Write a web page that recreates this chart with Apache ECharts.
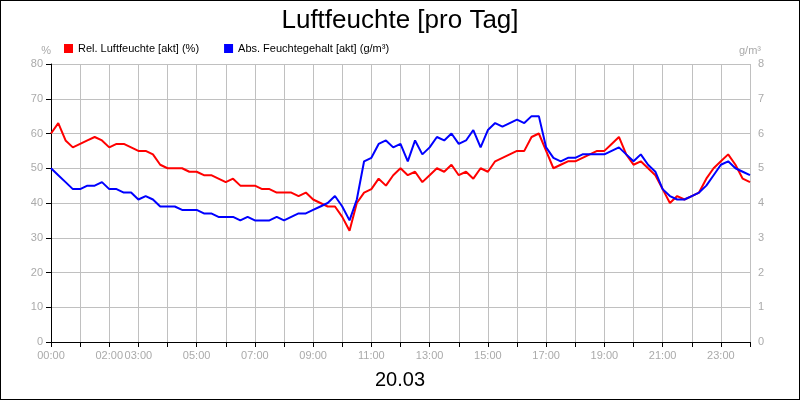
<!DOCTYPE html>
<html><head><meta charset="utf-8">
<script src="https://cdn.jsdelivr.net/npm/echarts@6/dist/echarts.min.js"></script>
<style>html,body{margin:0;padding:0;background:#fff}#c{width:798px;height:398px;border:1px solid #000}</style>
</head><body><div id="c"></div>
<script>
const times = [];
for (let i = 0; i <= 96; i++) { const h = Math.floor(i / 4), m = (i % 4) * 15; times.push(String(h).padStart(2,'0') + ':' + String(m).padStart(2,'0')); }
const shownLabels = ['00:00','02:00','03:00','05:00','07:00','09:00','11:00','13:00','15:00','17:00','19:00','21:00','23:00'];
const relHum = [60,63,58,56,57,58,59,58,56,57,57,56,55,55,54,51,50,50,50,49,49,48,48,47,46,47,45,45,45,44,44,43,43,43,42,43,41,40,39,39,36,32,40,43,44,47,45,48,50,48,49,46,48,50,49,51,48,49,47,50,49,52,53,54,55,55,59,60,55,50,51,52,52,53,54,55,55,57,59,54,51,52,50,48,44,40,42,41,42,43,47,50,52,54,51,47,46];
const absHum = [5.0,4.8,4.6,4.4,4.4,4.5,4.5,4.6,4.4,4.4,4.3,4.3,4.1,4.2,4.1,3.9,3.9,3.9,3.8,3.8,3.8,3.7,3.7,3.6,3.6,3.6,3.5,3.6,3.5,3.5,3.5,3.6,3.5,3.6,3.7,3.7,3.8,3.9,4.0,4.2,3.9,3.5,4.1,5.2,5.3,5.7,5.8,5.6,5.7,5.2,5.8,5.4,5.6,5.9,5.8,6.0,5.7,5.8,6.1,5.6,6.1,6.3,6.2,6.3,6.4,6.3,6.5,6.5,5.6,5.3,5.2,5.3,5.3,5.4,5.4,5.4,5.4,5.5,5.6,5.4,5.2,5.4,5.1,4.9,4.4,4.2,4.1,4.1,4.2,4.3,4.5,4.8,5.1,5.2,5.0,4.9,4.8];
const grey = '#aaaaaa';
const chart = echarts.init(document.getElementById('c'));
chart.setOption({
  animation: false,
  textStyle: { fontFamily: 'Liberation Sans, Arial, sans-serif' },
  title: [
    { text: 'Luftfeuchte [pro Tag]', left: 'center', top: 2, textStyle: { fontSize: 26, fontWeight: 'normal', color: '#000' } },
    { text: '20.03', left: 'center', top: 364, textStyle: { fontSize: 20, fontWeight: 'normal', color: '#000' } }
  ],
  legend: { left: 58, top: 37, itemWidth: 9, itemHeight: 9, itemGap: 25, icon: 'rect', textStyle: { fontSize: 11, color: '#000' },
    data: ['Rel. Luftfeuchte [akt] (%)', 'Abs. Feuchtegehalt [akt] (g/m³)'] },
  grid: { left: 50, right: 49, top: 63, bottom: 57 },
  xAxis: { type: 'category', data: times, boundaryGap: false,
    axisLine: { lineStyle: { color: '#000' } },
    axisTick: { interval: i => i % 4 === 0, lineStyle: { color: '#000' } },
    axisLabel: { interval: (i, v) => shownLabels.includes(v) && i < 96, color: grey, fontSize: 11 },
    splitLine: { show: true, interval: i => i % 4 === 0, lineStyle: { color: '#c0c0c0' } } },
  yAxis: [
    { type: 'value', min: 0, max: 80, interval: 10, name: '%', nameGap: 8, nameTextStyle: { color: grey, fontSize: 11, align: 'right' },
      axisLine: { show: true, lineStyle: { color: '#000' } }, axisTick: { show: true, lineStyle: { color: '#000' } },
      axisLabel: { color: grey, fontSize: 11 }, splitLine: { lineStyle: { color: '#c0c0c0' } } },
    { type: 'value', min: 0, max: 8, interval: 1, name: 'g/m³', nameGap: 8, nameTextStyle: { color: grey, fontSize: 11 },
      axisLine: { show: false }, axisTick: { show: false },
      axisLabel: { color: grey, fontSize: 11 }, splitLine: { show: false } }
  ],
  series: [
    { name: 'Rel. Luftfeuchte [akt] (%)', type: 'line', data: relHum, yAxisIndex: 0, symbol: 'none', color: '#ff0000', lineStyle: { width: 2 } },
    { name: 'Abs. Feuchtegehalt [akt] (g/m³)', type: 'line', data: absHum, yAxisIndex: 1, symbol: 'none', color: '#0000ff', lineStyle: { width: 2 } }
  ]
});
</script></body></html>
